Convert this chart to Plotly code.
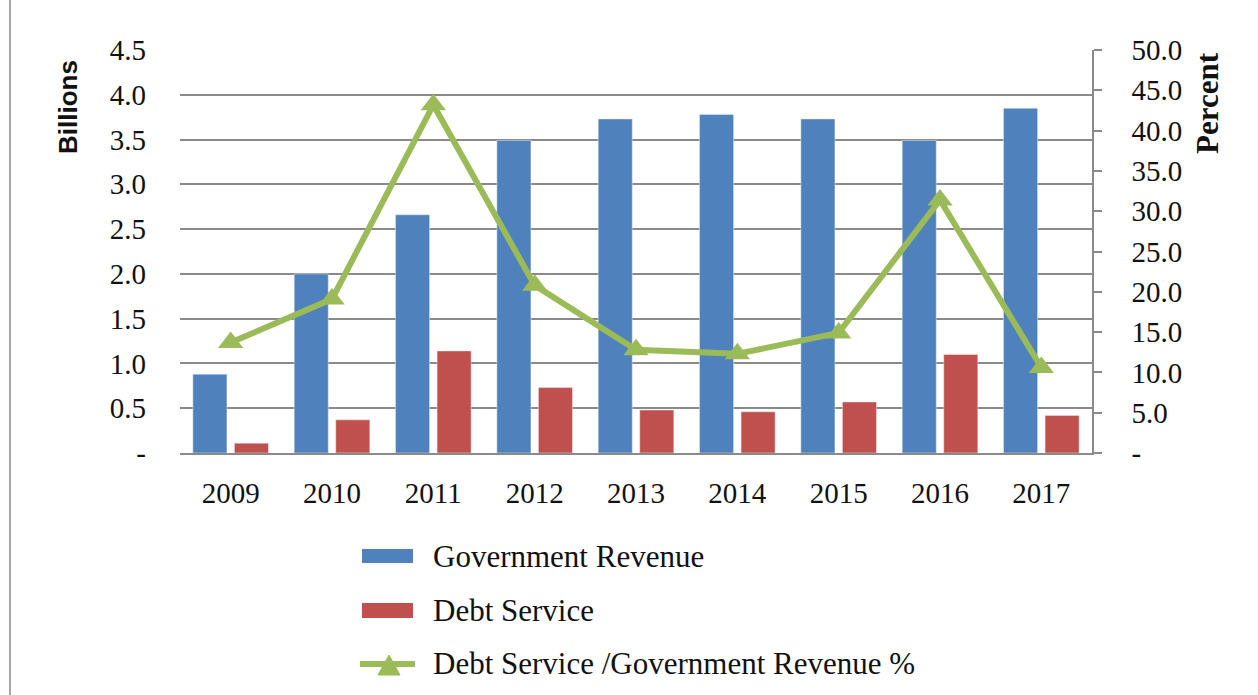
import plotly.graph_objects as go

# Fiscal data, 2009-2017
years = ["2009", "2010", "2011", "2012", "2013", "2014", "2015", "2016", "2017"]
gov_revenue = [0.88, 2.00, 2.66, 3.49, 3.73, 3.78, 3.73, 3.49, 3.85]      # billions
debt_service = [0.11, 0.37, 1.14, 0.73, 0.48, 0.46, 0.57, 1.10, 0.42]     # billions
ratio_pct = [13.7, 19.1, 43.2, 20.8, 12.8, 12.3, 14.9, 31.4, 10.6]       # percent

left_ticks = [0, 0.5, 1.0, 1.5, 2.0, 2.5, 3.0, 3.5, 4.0, 4.5]
left_labels = ["-", "0.5", "1.0", "1.5", "2.0", "2.5", "3.0", "3.5", "4.0", "4.5"]
right_ticks = [0, 5, 10, 15, 20, 25, 30, 35, 40, 45, 50]
right_labels = ["-", "5.0", "10.0", "15.0", "20.0", "25.0", "30.0", "35.0",
                "40.0", "45.0", "50.0"]

legend_names = ["Government Revenue", "Debt Service",
                "Debt Service /Government Revenue %"]

BLUE = "#4F81BD"
RED = "#C0504D"
GREEN = "#9BBB59"
GRID = "#8a8a8a"
SERIF = "Liberation Serif, Times New Roman, serif"

W, H = 1258, 695
L, R, T, B = 180, 1092, 50, 453  # plot area in pixels


def px(x):
    return (x - L) / (R - L)


def py(y):
    return (B - y) / (B - T)


fig = go.Figure()
fig.add_trace(go.Bar(x=years, y=gov_revenue, name=legend_names[0],
                     marker=dict(color=BLUE), showlegend=False))
fig.add_trace(go.Bar(x=years, y=debt_service, name=legend_names[1],
                     marker=dict(color=RED), showlegend=False))
fig.add_trace(go.Scatter(x=years, y=ratio_pct, name=legend_names[2], yaxis="y2",
                         mode="lines+markers",
                         line=dict(color=GREEN, width=6),
                         marker=dict(symbol="triangle-up", size=22, color=GREEN),
                         showlegend=False))

shapes = [
    # thin frame line on the far left
    dict(type="line", xref="paper", yref="paper", x0=px(10), x1=px(10),
         y0=py(0), y1=py(H), line=dict(color="#8a8a8a", width=1.5)),
    # legend swatches
    dict(type="rect", xref="paper", yref="paper", x0=px(362), x1=px(413),
         y0=py(563), y1=py(549), fillcolor=BLUE, line=dict(width=0)),
    dict(type="rect", xref="paper", yref="paper", x0=px(362), x1=px(413),
         y0=py(618), y1=py(603), fillcolor=RED, line=dict(width=0)),
    dict(type="line", xref="paper", yref="paper", x0=px(360), x1=px(415),
         y0=py(664), y1=py(664), line=dict(color=GREEN, width=6)),
    dict(type="path", xref="paper", yref="paper",
         path=f"M {px(378)},{py(675)} L {px(400)},{py(675)} L {px(389)},{py(655)} Z",
         fillcolor=GREEN, line=dict(color=GREEN, width=1)),
]

annotations = [
    dict(text="Billions", xref="paper", yref="paper", x=px(68), y=py(107),
         showarrow=False, textangle=-90, xanchor="center", yanchor="middle",
         font=dict(family="Liberation Sans, Arial, sans-serif", size=26,
                   color="#111111", weight="bold")),
    dict(text="Percent", xref="paper", yref="paper", x=px(1207), y=py(103),
         showarrow=False, textangle=-90, xanchor="center", yanchor="middle",
         font=dict(family=SERIF, size=31, color="#111111", weight="bold")),
]
for name, yc in zip(legend_names, [556, 610, 663]):
    annotations.append(dict(text=name, xref="paper", yref="paper",
                            x=px(431), y=py(yc), showarrow=False,
                            xanchor="left", yanchor="middle",
                            font=dict(family=SERIF, size=31, color="#111111")))

fig.update_layout(
    width=W, height=H,
    margin=dict(l=L, r=W - R, t=T, b=H - B, pad=0),
    paper_bgcolor="white", plot_bgcolor="white",
    barmode="group", bargap=0.18, bargroupgap=0.18,
    font=dict(family=SERIF, size=29, color="#111111"),
    xaxis=dict(type="category", range=[-0.5, len(years) - 0.5],
               showgrid=False, showline=True,
               linecolor=GRID, linewidth=1.5, ticks="",
               ticklabelstandoff=13, tickfont=dict(size=29)),
    yaxis=dict(range=[0, 4.5], tickvals=left_ticks, ticktext=left_labels,
               showgrid=True, gridcolor=GRID, gridwidth=1.5,
               showline=False, zeroline=False, ticks="",
               ticklabelstandoff=33, tickfont=dict(size=29)),
    yaxis2=dict(range=[0, 50], tickvals=right_ticks, ticktext=right_labels,
                overlaying="y", side="right", showgrid=False, zeroline=False,
                showline=True, linecolor=GRID, linewidth=1.5,
                ticks="outside", ticklen=8, tickcolor=GRID, tickwidth=1.5,
                ticklabelstandoff=24, tickfont=dict(size=29)),
    shapes=shapes,
    annotations=annotations,
)

fig.write_html("out.html")
